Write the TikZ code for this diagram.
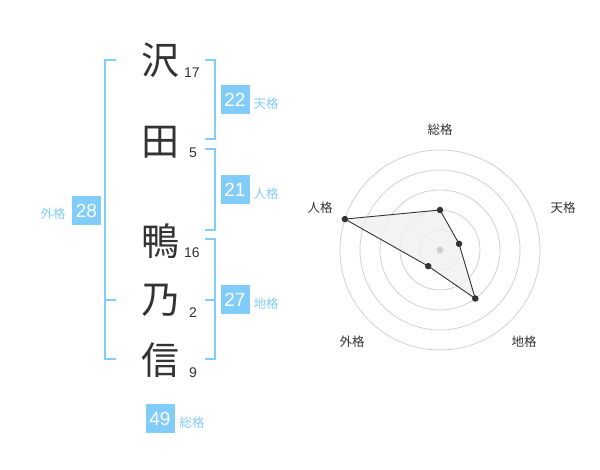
\documentclass[tikz,border=0pt]{standalone}
\usepackage{fontspec}
\setmainfont{Liberation Sans}
\newfontfamily\jp{Noto Sans CJK JP}
\definecolor{kakublue}{RGB}{130,204,250}
\definecolor{ink}{RGB}{51,51,51}
\definecolor{ringgray}{RGB}{208,208,208}
\definecolor{fillgray}{RGB}{240,240,240}
\tikzset{
  kanji/.style={text=ink,font=\jp\fontsize{38}{38}\selectfont,inner sep=0pt},
  strokes/.style={text=ink,font=\fontsize{14}{14}\selectfont,inner sep=0pt},
  kakubox/.style={fill=kakublue,text=white,font=\fontsize{19}{19}\selectfont,minimum size=29pt,inner sep=0pt},
  kakuname/.style={text=kakublue,font=\jp\fontsize{12.5}{12.5}\selectfont,inner sep=0pt},
  axisname/.style={text=ink,font=\jp\fontsize{12.5}{12.5}\selectfont,inner sep=0pt},
  bracket/.style={draw=kakublue,line width=2pt},
  ring/.style={draw=ringgray,line width=0.8pt},
  pdot/.style={circle,fill=ink,inner sep=0pt,minimum size=6.5pt}
}

\begin{document}
\begin{tikzpicture}[x=1pt,y=1pt]
\useasboundingbox (0,0) rectangle (600,470);
\node[kanji] (k1) at (160,410) {沢};
\node[kanji] (k2) at (160,328) {田};
\node[kanji] (k3) at (160,229) {鴨};
\node[kanji] (k4) at (160,170) {乃};
\node[kanji] (k5) at (160,110) {信};
\node[strokes] (s1) at (192,397) {17};
\node[strokes] (s2) at (193,317) {5};
\node[strokes] (s3) at (192,217) {16};
\node[strokes] (s4) at (193,157) {2};
\node[strokes] (s5) at (193,97) {9};
\draw[bracket] (116,410) -- (105,410) -- (105,111) -- (116,111);
\draw[bracket] (105,170) -- (116,170);
\draw[bracket] (205,410) -- (215,410) -- (215,331) -- (205,331);
\draw[bracket] (205,321) -- (215,321) -- (215,240) -- (205,240);
\draw[bracket] (205,231) -- (215,231) -- (215,111) -- (205,111);
\draw[bracket] (205,170) -- (215,170);
\node[kakubox] (gai) at (86.5,259.5) {28};
\node[kakuname] at (53,256) {外格};
\node[kakubox] (ten) at (235,370) {22};
\node[kakuname] at (266,366) {天格};
\node[kakubox] (jin) at (235,280) {21};
\node[kakuname] at (266,276) {人格};
\node[kakubox] (chi) at (235,170) {27};
\node[kakuname] at (266,166) {地格};
\node[kakubox] (sou) at (160,51) {49};
\node[kakuname] at (192,47) {総格};
\begin{scope}[shift={(440,220)}]
\foreach \r in {20,40,...,100}
  \draw[ring] (0,0) circle[radius=\r pt];
\coordinate (rs) at (90:40);
\coordinate (rt) at (18:20);
\coordinate (rc) at (-54:60);
\coordinate (rg) at (234:20);
\coordinate (rj) at (162:100);
\fill[fillgray,opacity=0.8] (rs) -- (rt) -- (rc) -- (rg) -- (rj) -- cycle;
\fill[ringgray] (0,0) circle[radius=3.5pt];
\draw[ink,line width=0.9pt] (rs) -- (rt) -- (rc) -- (rg) -- (rj) -- cycle;
\foreach \p in {rs,rt,rc,rg,rj}
  \node[pdot] at (\p) {};
\node[axisname] (as) at (0,120) {総格};
\node[axisname] (at) at (123,42) {天格};
\node[axisname] (ac) at (84,-92) {地格};
\node[axisname] (ag) at (-88,-92) {外格};
\node[axisname] (aj) at (-120,42) {人格};
\end{scope}
\end{tikzpicture}
\end{document}
